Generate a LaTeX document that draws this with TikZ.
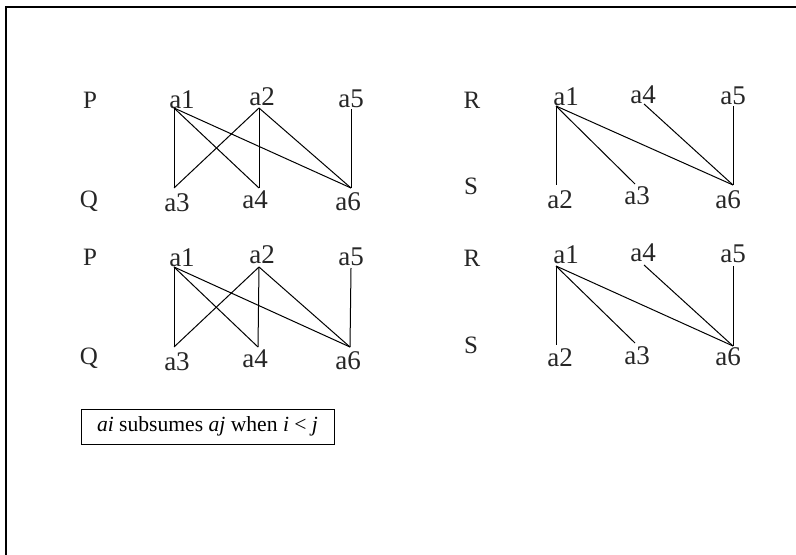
\documentclass[tikz,border=0pt]{standalone}
\usepackage{fontspec}
\setmainfont{Liberation Serif}
\usepackage{tikz}
\usetikzlibrary{positioning}

\begin{document}
\begin{tikzpicture}[x=0.5pt, y=-0.5pt,
  lbl/.style={inner sep=0pt, font=\fontsize{13.5}{15}\selectfont, text=black!85},
  side/.style={lbl, font=\fontsize{12.5}{14}\selectfont},
  edge/.style={line width=0.5pt, black},
  note/.style={draw, line width=0.5pt, inner sep=0pt, minimum width=126.5pt, minimum height=17.5pt, font=\fontsize{10.8}{12}\selectfont}]
  \useasboundingbox (0,0) rectangle (796,555);
  \draw[line width=1pt] (6,555) -- (6,7) -- (796,7);

  % upper left
  \node[side] (tlP) at (90,100) {P};
  \node[side] (tlQ) at (89,201) {Q};
  \node[lbl] at (182,100) {a1}; \coordinate (tl1) at (174,108);
  \node[lbl] at (262,97)  {a2}; \coordinate (tl2) at (259,108);
  \node[lbl] at (351,99)  {a5}; \coordinate (tl5) at (351,109);
  \node[lbl] at (177,203) {a3}; \coordinate (tl3) at (174,188);
  \node[lbl] at (255,200) {a4}; \coordinate (tl4) at (259,188);
  \node[lbl] at (348,202) {a6}; \coordinate (tl6) at (351,188);
  \foreach \u/\v in {1/3,1/4,1/6,2/3,2/4,2/6,5/6}
    \draw[edge] (tl\u) -- (tl\v);

  % upper right
  \node[side] (trR) at (472,100) {R};
  \node[side] (trS) at (471,186) {S};
  \node[lbl] at (566,97)  {a1}; \coordinate (tr1) at (556,106);
  \node[lbl] at (643,95)  {a4}; \coordinate (tr4) at (644,104);
  \node[lbl] at (733,96)  {a5}; \coordinate (tr5) at (733,106);
  \node[lbl] at (560,200) {a2}; \coordinate (tr2) at (556,185);
  \node[lbl] at (637,196) {a3}; \coordinate (tr3) at (635,184);
  \node[lbl] at (728,200) {a6}; \coordinate (tr6) at (733,185);
  \foreach \u/\v in {1/2,1/3,1/6,4/6,5/6}
    \draw[edge] (tr\u) -- (tr\v);

  % lower left
  \node[side] (blP) at (90,257) {P};
  \node[side] (blQ) at (89,358) {Q};
  \node[lbl] at (182,258) {a1}; \coordinate (bl1) at (174,267);
  \node[lbl] at (262,255) {a2}; \coordinate (bl2) at (259,267);
  \node[lbl] at (351,257) {a5}; \coordinate (bl5) at (351,268);
  \node[lbl] at (177,362) {a3}; \coordinate (bl3) at (174,347);
  \node[lbl] at (255,359) {a4}; \coordinate (bl4) at (258,347);
  \node[lbl] at (348,361) {a6}; \coordinate (bl6) at (350,347);
  \foreach \u/\v in {1/3,1/4,1/6,2/3,2/4,2/6,5/6}
    \draw[edge] (bl\u) -- (bl\v);

  % lower right
  \node[side] (brR) at (472,258) {R};
  \node[side] (brS) at (471,345) {S};
  \node[lbl] at (566,255) {a1}; \coordinate (br1) at (556,266);
  \node[lbl] at (643,253) {a4}; \coordinate (br4) at (644,265);
  \node[lbl] at (733,254) {a5}; \coordinate (br5) at (733,266);
  \node[lbl] at (560,358) {a2}; \coordinate (br2) at (556,345);
  \node[lbl] at (637,356) {a3}; \coordinate (br3) at (635,343);
  \node[lbl] at (728,357) {a6}; \coordinate (br6) at (733,346);
  \foreach \u/\v in {1/2,1/3,1/6,4/6,5/6}
    \draw[edge] (br\u) -- (br\v);

  \node[note] (rule) at (207.5,426.5) {\textit{ai} subsumes \textit{aj} when \textit{i} < \textit{j}};
\end{tikzpicture}
\end{document}
